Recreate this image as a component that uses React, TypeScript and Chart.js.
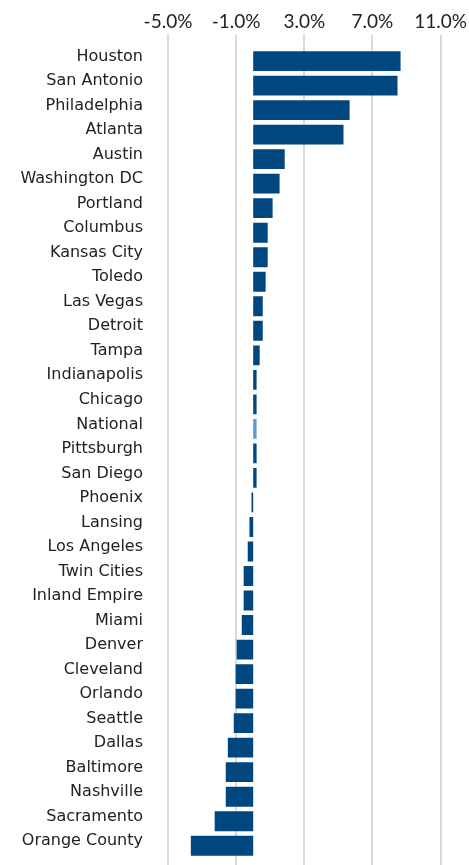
import React, { useEffect, useRef } from "react";
import { Chart, registerables } from "chart.js";

Chart.register(...registerables);

const categories = [
  "Houston", "San Antonio", "Philadelphia", "Atlanta", "Austin", "Washington DC",
  "Portland", "Columbus", "Kansas City", "Toledo", "Las Vegas", "Detroit", "Tampa",
  "Indianapolis", "Chicago", "National", "Pittsburgh", "San Diego", "Phoenix",
  "Lansing", "Los Angeles", "Twin Cities", "Inland Empire", "Miami", "Denver",
  "Cleveland", "Orlando", "Seattle", "Dallas", "Baltimore", "Nashville",
  "Sacramento", "Orange County",
];

const values = [
  8.65, 8.47, 5.66, 5.3, 1.85, 1.55,
  1.14, 0.85, 0.85, 0.73, 0.56, 0.56, 0.38,
  0.2, 0.2, 0.2, 0.2, 0.2, -0.1,
  -0.22, -0.32, -0.56, -0.56, -0.67, -0.97,
  -1.03, -1.03, -1.14, -1.49, -1.61, -1.61,
  -2.26, -3.66,
];

const xMin = -5;
const xMax = 11;
const xStep = 4;

const highlight = "National";
const DARK = "#00467f";
const LIGHT = "#5b9bd5";
const GRID = "#d9d9d9";

// extends the x-axis grid lines below the plot area, at the scale's own tick positions
const gridExtension = {
  id: "gridExtension",
  beforeDatasetsDraw(chart: any) {
    const { ctx, chartArea, scales } = chart;
    const x = scales.x;
    ctx.save();
    ctx.strokeStyle = GRID;
    ctx.lineWidth = 2;
    x.ticks.forEach((t: any) => {
      const px = Math.round(x.getPixelForValue(t.value));
      ctx.beginPath();
      ctx.moveTo(px, chartArea.bottom);
      ctx.lineTo(px, chart.height);
      ctx.stroke();
    });
    ctx.restore();
  },
};

export default function App() {
  const ref = useRef<HTMLCanvasElement | null>(null);

  useEffect(() => {
    if (!ref.current) return;
    const colors = categories.map((c) => (c === highlight ? LIGHT : DARK));
    const chart = new Chart(ref.current, {
      type: "bar",
      data: {
        labels: categories,
        datasets: [
          {
            data: values,
            backgroundColor: colors,
            borderWidth: 0,
            barPercentage: 0.81,
            categoryPercentage: 1,
          },
        ],
      },
      plugins: [gridExtension],
      options: {
        indexAxis: "y",
        animation: false,
        responsive: false,
        maintainAspectRatio: false,
        layout: { padding: { top: 0, right: 28, bottom: 7, left: 0 } },
        plugins: {
          legend: { display: false },
          tooltip: { enabled: false },
        },
        scales: {
          x: {
            type: "linear",
            position: "top",
            min: xMin,
            max: xMax,
            border: { display: false },
            grid: {
              color: GRID,
              lineWidth: 2,
              drawTicks: true,
              tickLength: 14,
            },
            ticks: {
              stepSize: xStep,
              padding: 2,
              color: "#222",
              font: { family: "Lato", size: 19 },
              callback: (v: any) => Number(v).toFixed(1) + "%",
            },
          },
          y: {
            type: "category",
            border: { display: false },
            grid: {
              display: true,
              drawOnChartArea: false,
              drawTicks: true,
              tickLength: 28,
              color: "rgba(0,0,0,0)",
            },
            afterFit: (scale: any) => {
              scale.width = 160;
            },
            ticks: {
              padding: -3,
              labelOffset: -4.5,
              color: "#222",
              font: { family: "DejaVu Sans", size: 16 },
              autoSkip: false,
            },
          },
        },
      },
    } as any);
    return () => chart.destroy();
  }, []);

  return (
    <div
      style={{
        position: "fixed",
        left: 8,
        top: 8,
        width: 461,
        height: 857,
      }}
    >
      <canvas ref={ref} width={461} height={857} style={{ display: "block" }} />
    </div>
  );
}
